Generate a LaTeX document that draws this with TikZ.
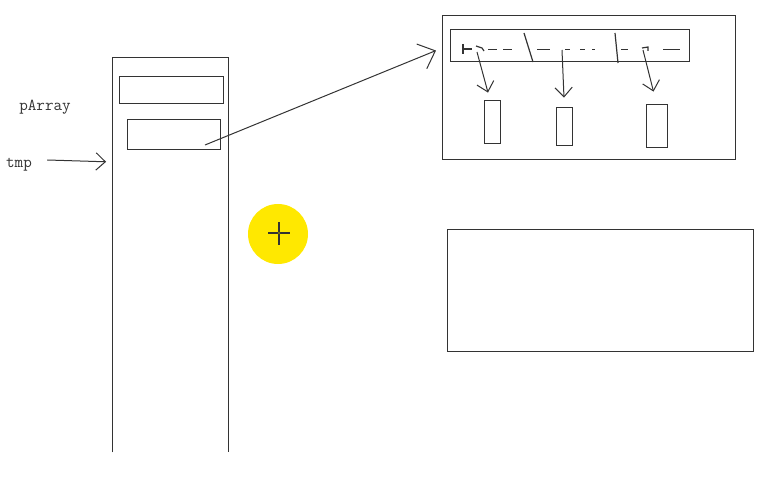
\documentclass[tikz,border=0pt]{standalone}
\usepackage{xcolor}
\usepackage{tikz}
\usetikzlibrary{arrows.meta,positioning,calc}
\definecolor{inkgray}{HTML}{333333}
\definecolor{cursor}{HTML}{FFE800}

\begin{document}
\begin{tikzpicture}[
      x=0.75pt, y=-0.75pt,
      every node/.style={font=\fontsize{12.5}{14}\ttfamily, text=inkgray},
      cell/.style={draw=inkgray, line width=0.65pt, inner sep=0pt},
      ptr/.style={-{Straight Barb[length=7pt, width=13pt]}, draw=inkgray, line width=0.75pt},
      scrib/.style={draw=inkgray, line width=0.9pt}
  ]
    \useasboundingbox (0,0) rectangle (783,478);

    % ---- Stack column (open at the bottom) ----
    \node[inner sep=0pt, minimum width={115*0.75pt}, minimum height={394*0.75pt}]
          (col) at (170.5, 255) {};
    \draw[draw=inkgray, line width=0.75pt]
          (col.south west) -- (col.north west) -- (col.north east) -- (col.south east);

    \node[cell, minimum width={104*0.75pt}, minimum height={27*0.75pt}] (slotA) at (171, 89.5) {};
    \node[cell, minimum width={93*0.75pt}, minimum height={30*0.75pt}] (slotB) at (173.5, 134) {};

    % ---- Labels ----
    \node (parray) at (45, 107) {pArray};
    \node (tmp) at (19, 165) {tmp};
    \draw[ptr, shorten <=8pt, shorten >=5pt] ([yshift=4pt]tmp.east) -- (col.west |- 0,162);

    % ---- Heap area ----
    \node[cell, minimum width={293*0.75pt}, minimum height={144*0.75pt}] (heap) at (588.5, 87) {};
    \node[cell, minimum width={239*0.75pt}, minimum height={32*0.75pt}] (strip) at (569.5, 45) {};

    \node[cell, minimum width={16*0.75pt}, minimum height={43*0.75pt}] (elem1) at (492, 121.5) {};
    \node[cell, minimum width={16*0.75pt}, minimum height={38*0.75pt}] (elem2) at (564, 126) {};
    \node[cell, minimum width={21*0.75pt}, minimum height={43*0.75pt}] (elem3) at (656.5, 125.5) {};

    \node[cell, minimum width={306*0.75pt}, minimum height={122*0.75pt}] (lowbox) at (600, 290) {};

    % ---- Pointer from slot to strip ----
    \coordinate (ptrsrc) at (205, 145);
    \draw[ptr, -{Straight Barb[length=11pt, width=20pt]}, shorten >=11pt] (ptrsrc) -- (strip.west);

    % ---- Scribbles inside the strip ----
    \draw[scrib] (463,44) -- (463,54);
    \draw[scrib] (463,49) -- (472,49);
    \draw[scrib] (476,46) -- (482,48) -- (484,51);
    \foreach \a/\b in {488/497, 503/512, 537/550, 565/570, 580/585, 592/595, 621/628, 663/680} {
      \draw[scrib] (\a,49.5) -- (\b,49.5);
    }
    \draw[scrib] (642,48) -- (648,47) -- (648,51);
    \draw[scrib] (524,33) -- (533,62);
    \draw[scrib] (615,33) -- (618,63);

    % ---- Element pointers ----
    \coordinate (s1) at (477, 52);
    \coordinate (s2) at (562, 50);
    \coordinate (s3) at (643, 50);
    \draw[ptr] (s1) -- ($(elem1.north)+(-4,-7)$);
    \draw[ptr] (s2) -- ($(elem2.north)+(0,-9)$);
    \draw[ptr] (s3) -- ($(elem3.north)+(-3,-12)$);

    % ---- Cursor highlight ----
    \fill[cursor] (278, 234) circle[radius=30];
    \draw[line width=0.8pt, black!80] (268,233) -- (290,233) (279,222) -- (279,245);
    \draw[line width=0.5pt, black!80, fill=cursor!70!black] (279,233) circle[radius=1.6];

  \end{tikzpicture}
\end{document}
